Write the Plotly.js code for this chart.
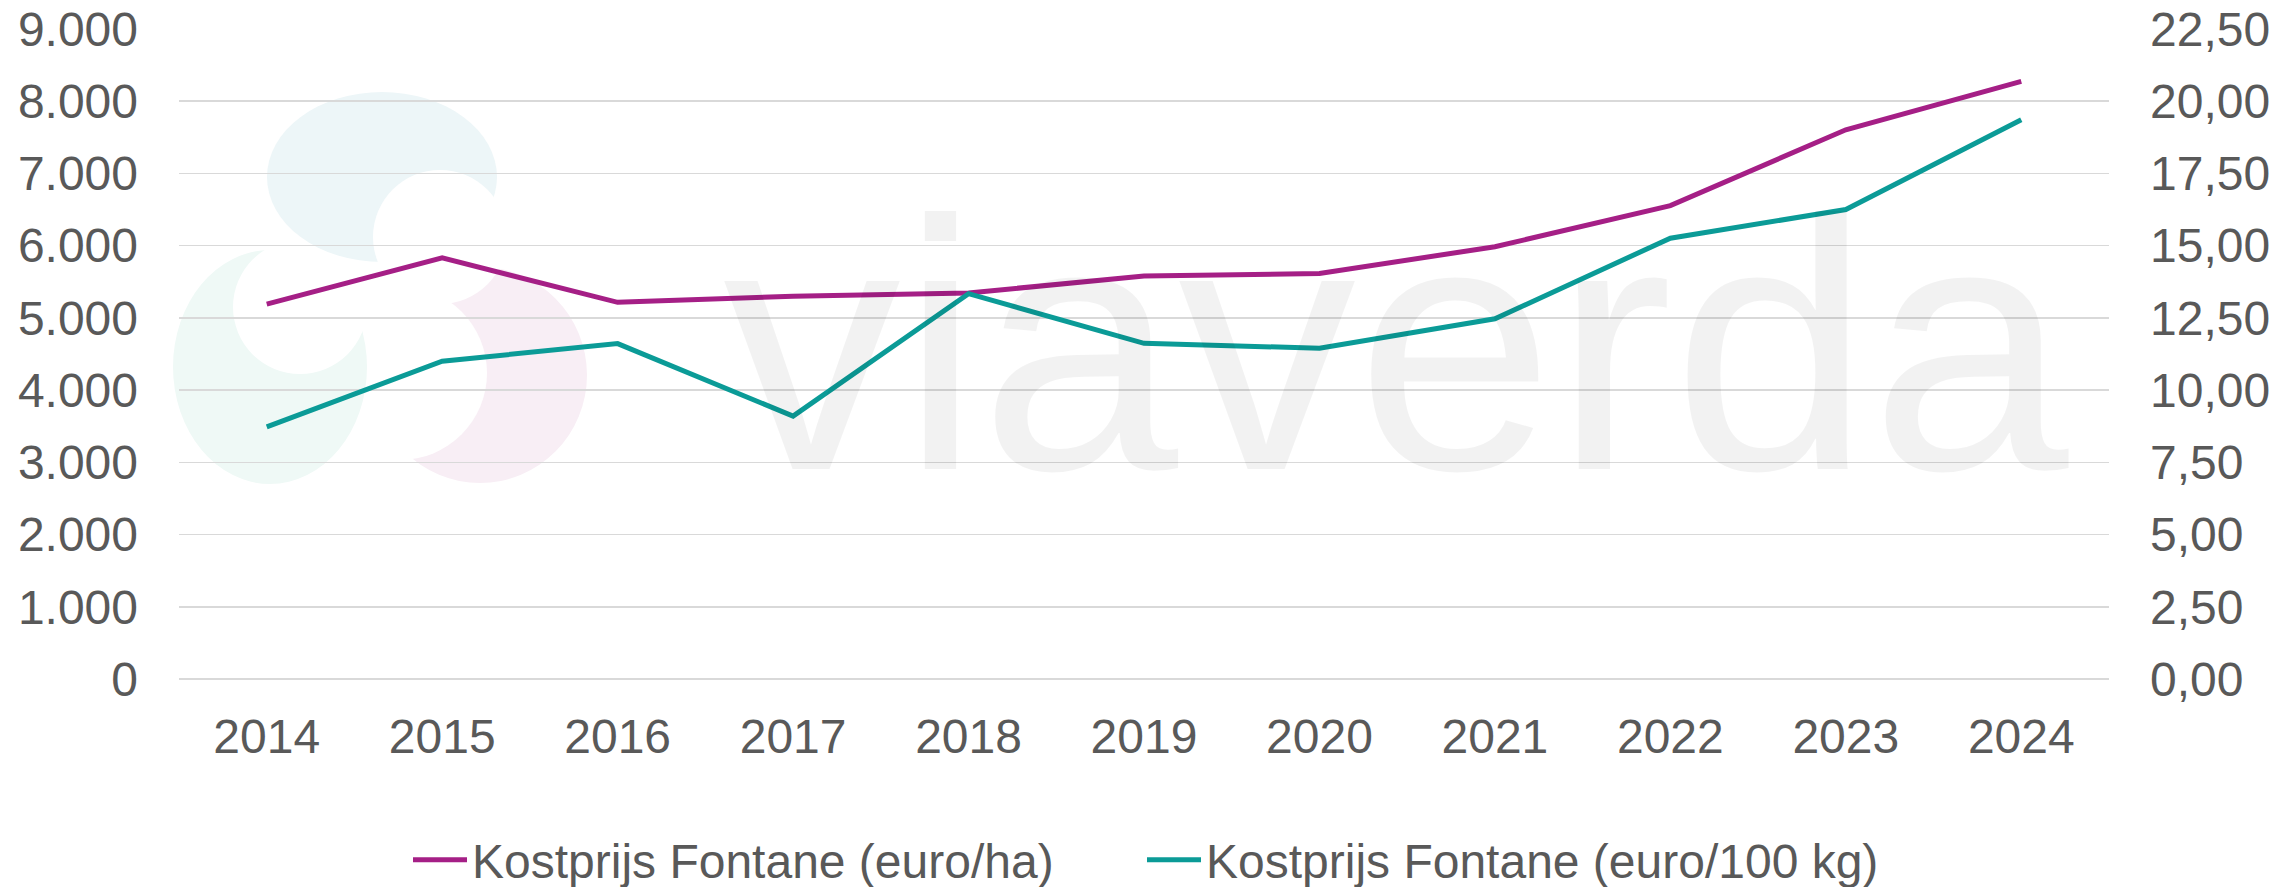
<!DOCTYPE html>
<html>
<head>
<meta charset="utf-8">
<script src="https://cdn.plot.ly/plotly-3.0.1.min.js"></script>
<style>
  html, body { margin: 0; padding: 0; background: #ffffff; }
  #chart { width: 2295px; height: 887px; }
</style>
</head>
<body>
<div id="chart"></div>
<script>
// ---- data ----
const years = ['2014', '2015', '2016', '2017', '2018', '2019', '2020', '2021', '2022', '2023', '2024'];
const costPerHa = [5190, 5830, 5215, 5300, 5345, 5580, 5615, 5985, 6555, 7605, 8275];
const costPer100kg = [8.73, 11.00, 11.61, 9.10, 13.34, 11.62, 11.45, 12.47, 15.26, 16.25, 19.36];
const seriesNames = ['Kostprijs Fontane (euro/ha)', 'Kostprijs Fontane (euro/100 kg)'];
const leftTicks = [0, 1000, 2000, 3000, 4000, 5000, 6000, 7000, 8000, 9000];
const rightTicks = [0, 2.5, 5, 7.5, 10, 12.5, 15, 17.5, 20, 22.5];
const watermarkText = 'viaverda';

// ---- layout geometry ----
const W = 2295, H = 887;
const M = { l: 179, r: 186, t: 29, b: 208 };
const PW = W - M.l - M.r, PH = H - M.t - M.b;
const px2x = X => (X - M.l) / PW;
const px2y = Y => (H - M.b - Y) / PH;

function ellipse(cx, cy, rx, ry, color) {
  return {
    type: 'circle', xref: 'paper', yref: 'paper', layer: 'below',
    x0: px2x(cx - rx), x1: px2x(cx + rx), y0: px2y(cy + ry), y1: px2y(cy - ry),
    fillcolor: color, line: { width: 0 }
  };
}

const fontFamily = '"Liberation Sans", Arial, sans-serif';
const textColor = '#595959';
const gridColor = '#d9d9d9';
const FS = 48;

const traces = [
  {
    x: years, y: costPerHa, name: seriesNames[0], type: 'scatter', mode: 'lines',
    line: { color: '#a51f86', width: 5 }, yaxis: 'y'
  },
  {
    x: years, y: costPer100kg, name: seriesNames[1], type: 'scatter', mode: 'lines',
    line: { color: '#0b9b97', width: 5 }, yaxis: 'y2'
  }
];

const layout = {
  width: W, height: H,
  margin: M,
  paper_bgcolor: '#ffffff', plot_bgcolor: 'rgba(0,0,0,0)',
  separators: ',.',
  font: { family: fontFamily, size: FS, color: textColor },
  showlegend: true,
  legend: {
    orientation: 'h', x: px2x(408), xanchor: 'left', xref: 'paper',
    y: 1 - 860 / H, yanchor: 'middle', yref: 'container',
    font: { family: fontFamily, size: FS, color: textColor },
    entrywidth: 665, entrywidthmode: 'pixels', itemwidth: 54,
    bgcolor: 'rgba(0,0,0,0)'
  },
  xaxis: {
    type: 'category', range: [-0.5, 10.5],
    showgrid: false, zeroline: false, showline: false, ticks: '',
    tickfont: { family: fontFamily, size: FS, color: textColor },
    ticklabelstandoff: 25, fixedrange: true
  },
  yaxis: {
    range: [0, 9000], tickvals: leftTicks, tickformat: ',d',
    showgrid: true, gridcolor: gridColor, gridwidth: 1.6,
    zeroline: true, zerolinecolor: gridColor, zerolinewidth: 1.6,
    showline: false, ticks: '',
    tickfont: { family: fontFamily, size: FS, color: textColor },
    ticklabelstandoff: 40
  },
  yaxis2: {
    range: [0, 22.5], tickvals: rightTicks, tickformat: '.2f',
    overlaying: 'y', side: 'right',
    showgrid: false, zeroline: false, showline: false, ticks: '',
    tickfont: { family: fontFamily, size: FS, color: textColor },
    ticklabelstandoff: 40
  },
  shapes: [
    ellipse(480, 375, 107, 108, '#f8eef5'),
    ellipse(400, 373, 87, 87, '#ffffff'),
    ellipse(270, 367, 97, 117, '#eff9f6'),
    ellipse(300, 307, 67, 67, '#ffffff'),
    ellipse(382, 177, 115, 85, '#edf6f8'),
    ellipse(440, 237, 67, 67, '#ffffff')
  ],
  annotations: [
    {
      text: watermarkText, xref: 'paper', yref: 'paper',
      x: px2x(1397), y: px2y(345), xanchor: 'center', yanchor: 'middle',
      showarrow: false,
      font: { family: fontFamily, size: 356, color: 'rgba(0,0,0,0.05)' }
    }
  ]
};

Plotly.newPlot('chart', traces, layout, { staticPlot: true, displayModeBar: false });
</script>
</body>
</html>
